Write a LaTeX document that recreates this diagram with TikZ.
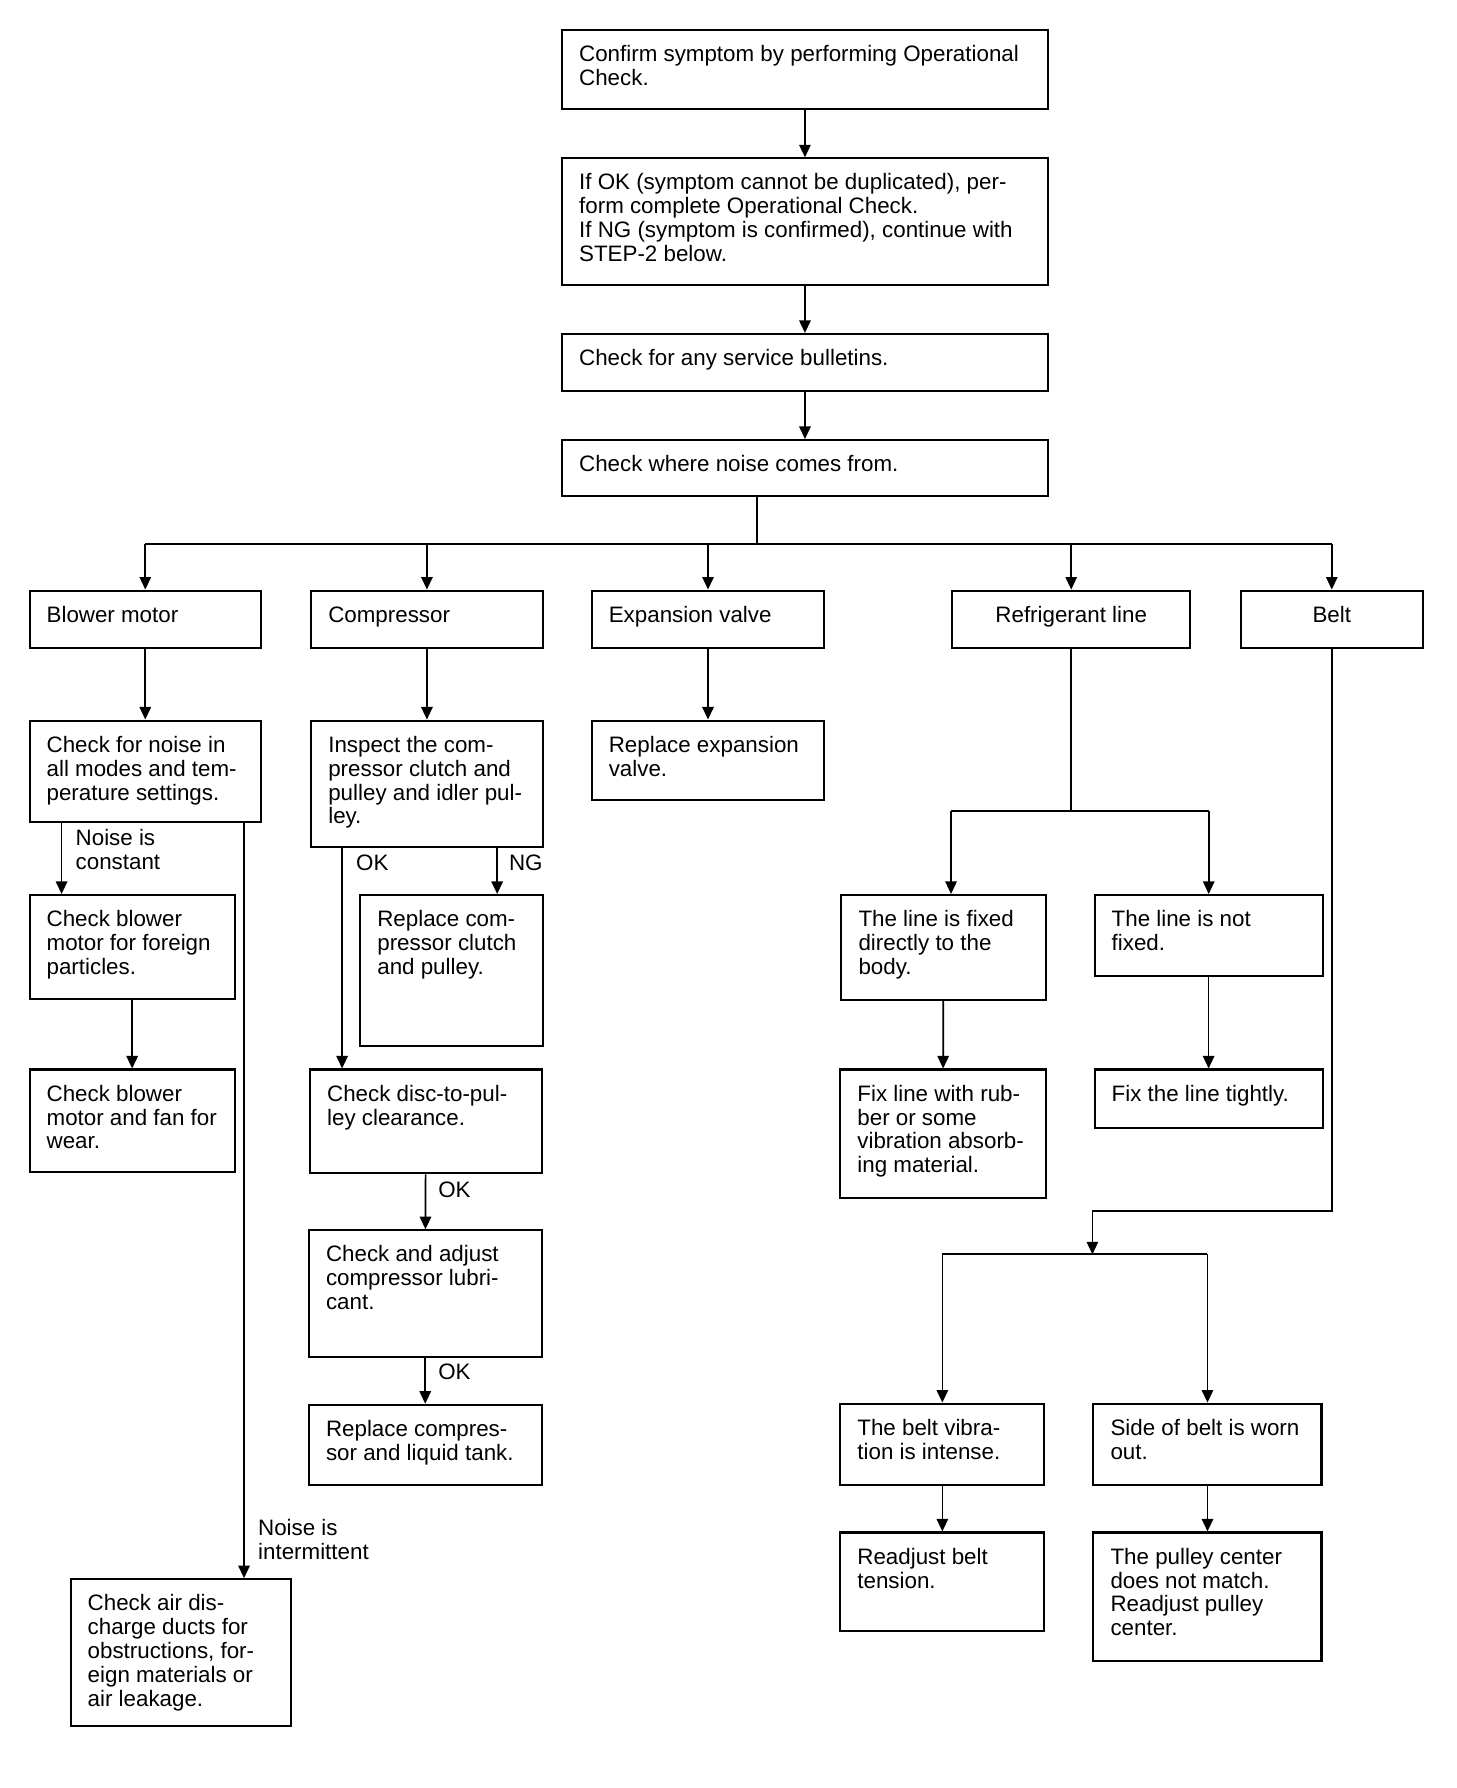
\documentclass[tikz,border=0pt]{standalone}
\usepackage{fontspec}
\setmainfont{Liberation Sans}
\usetikzlibrary{arrows.meta,positioning,calc}

\newlength\unitpx
\setlength\unitpx{0.5pt}
\newcommand{\boxtext}[3]{\parbox[t][#2\unitpx][t]{#1\unitpx}{\rightskip=0pt plus 1fil minus 10pt\parfillskip=0pt plus 1fil\strut#3}}

\begin{document}
\begin{tikzpicture}[
  x=0.5pt, y=-0.5pt,
  font=\fontsize{9.8}{10.5}\selectfont,
  >={Triangle[length=5.5pt,width=5pt]},
  stepbox/.style={
    draw,
    line width=0.9pt,
    anchor=north west,
    inner xsep=7.5pt,
    inner ysep=6.5pt
  },
  link/.style={line width=0.75pt},
  tag/.style={anchor=north west, inner sep=0pt, align=left}
]
\useasboundingbox (0,0) rectangle (1277,1568);

\node[stepbox] (confirm) at (492,25) {\boxtext{396}{44}{Confirm symptom by performing Operational\\Check.}};
\node[stepbox] (ifok) at (492,138) {\boxtext{396}{85}{If OK (symptom cannot be duplicated), per-\\form complete Operational Check.\\If NG (symptom is confirmed), continue with\\STEP-2 below.}};
\node[stepbox] (bulletin) at (492,292) {\boxtext{396}{24}{Check for any service bulletins.}};
\node[stepbox] (noise) at (492,385) {\boxtext{396}{23}{Check where noise comes from.}};

\node[stepbox] (blower) at (25,517) {\boxtext{173}{24}{Blower motor}};
\node[stepbox] (compressor) at (272,517) {\boxtext{173}{24}{Compressor}};
\node[stepbox] (expansion) at (518,517) {\boxtext{174}{24}{Expansion valve}};
\node[stepbox] (refrigerant) at (834,517) {\boxtext{179}{24}{\centering Refrigerant line}};
\node[stepbox] (belt) at (1087,517) {\boxtext{130}{24}{\centering Belt}};

\node[stepbox] (noisechk) at (25,631) {\boxtext{173}{63}{Check for noise in\\all modes and tem-\\perature settings.}};
\node[stepbox] (foreign) at (25,784) {\boxtext{150}{65}{Check blower\\motor for foreign\\particles.}};
\node[stepbox] (wear) at (25,937) {\boxtext{150}{64}{Check blower\\motor and fan for\\wear.}};
\node[stepbox] (ducts) at (61,1384) {\boxtext{163}{103}{Check air dis-\\charge ducts for\\obstructions, for-\\eign materials or\\air leakage.}};

\node[stepbox] (inspect) at (272,631) {\boxtext{173}{85}{Inspect the com-\\pressor clutch and\\pulley and idler pul-\\ley.}};
\node[stepbox] (clutch) at (315,784) {\boxtext{130}{106}{Replace com-\\pressor clutch\\and pulley.}};
\node[stepbox] (disc) at (271,937) {\boxtext{173}{65}{Check disc-to-pul-\\ley clearance.}};
\node[stepbox] (lube) at (270,1078) {\boxtext{174}{85}{Check and adjust\\compressor lubri-\\cant.}};
\node[stepbox] (replcomp) at (270,1231) {\boxtext{174}{44}{Replace compres-\\sor and liquid tank.}};

\node[stepbox] (replexp) at (518,631) {\boxtext{174}{44}{Replace expansion\\valve.}};

\node[stepbox] (fixed) at (737,784) {\boxtext{149}{66}{The line is fixed\\directly to the\\body.}};
\node[stepbox] (notfixed) at (959,784) {\boxtext{170}{45}{The line is not\\fixed.}};
\node[stepbox] (rubber) at (736,937) {\boxtext{150}{87}{Fix line with rub-\\ber or some\\vibration absorb-\\ing material.}};
\node[stepbox] (tight) at (959,937) {\boxtext{170}{25}{Fix the line tightly.}};

\node[stepbox] (vibra) at (736,1230) {\boxtext{149}{45}{The belt vibra-\\tion is intense.}};
\node[stepbox] (worn) at (958,1230) {\boxtext{170}{45}{Side of belt is worn\\out.}};
\node[stepbox] (tension) at (736,1343) {\boxtext{149}{60}{Readjust belt\\tension.}};
\node[stepbox] (pulley) at (958,1343) {\boxtext{170}{87}{The pulley center\\does not match.\\Readjust pulley\\center.}};

\node[tag] (constant) at (66,727) {Noise is\\constant};
\node[tag] (intermit) at (226,1332) {Noise is\\intermittent};
\node[tag] (okone) at (312,749) {OK};
\node[tag] (ngone) at (446,749) {NG};
\node[tag] (oktwo) at (384,1036) {OK};
\node[tag] (okthree) at (384,1196) {OK};

\coordinate (split) at (664,477);
\coordinate (rleft) at (834,711);
\coordinate (rright) at (1060,711);
\coordinate (bturn) at (958,1062);
\coordinate (bsplit) at (958,1100);

\draw[link,->] (confirm) -- (ifok);
\draw[link,->] (ifok) -- (bulletin);
\draw[link,->] (bulletin) -- (noise);
\draw[link] (noise.south -| split) -- (split);
\draw[link] (split -| blower) -- (split -| belt);
\foreach \n in {blower,compressor,expansion,refrigerant,belt}
  \draw[link,->] (split -| \n) -- (\n);

\draw[link,->] (blower) -- (noisechk);
\draw[link,->] (noisechk.south -| 54,0) -- (foreign.north -| 54,0);
\draw[link,->] (foreign) -- (wear);
\draw[link,->] (noisechk.south -| 214,0) -- (ducts.north -| 214,0);

\draw[link,->] (compressor) -- (inspect);
\draw[link,->] (inspect.south -| 300,0) -- (disc.north -| 300,0);
\draw[link,->] (inspect.south -| 436,0) -- (clutch.north -| 436,0);
\draw[link,->] (disc) -- (lube);
\draw[link,->] (lube) -- (replcomp);

\draw[link,->] (expansion) -- (replexp);

\draw[link] (refrigerant) -- (refrigerant |- rleft);
\draw[link] (rleft) -- (rright);
\draw[link,->] (rleft) -- (rleft |- fixed.north);
\draw[link,->] (rright) -- (rright |- notfixed.north);
\draw[link,->] (fixed) -- (rubber);
\draw[link,->] (notfixed) -- (tight);

\draw[link,->] (belt) |- (bturn) -- (bsplit);
\draw[link] (bsplit -| vibra) -- (bsplit -| worn);
\draw[link,->] (bsplit -| vibra) -- (vibra);
\draw[link,->] (bsplit -| worn) -- (worn);
\draw[link,->] (vibra) -- (tension);
\draw[link,->] (worn) -- (pulley);
\end{tikzpicture}
\end{document}
